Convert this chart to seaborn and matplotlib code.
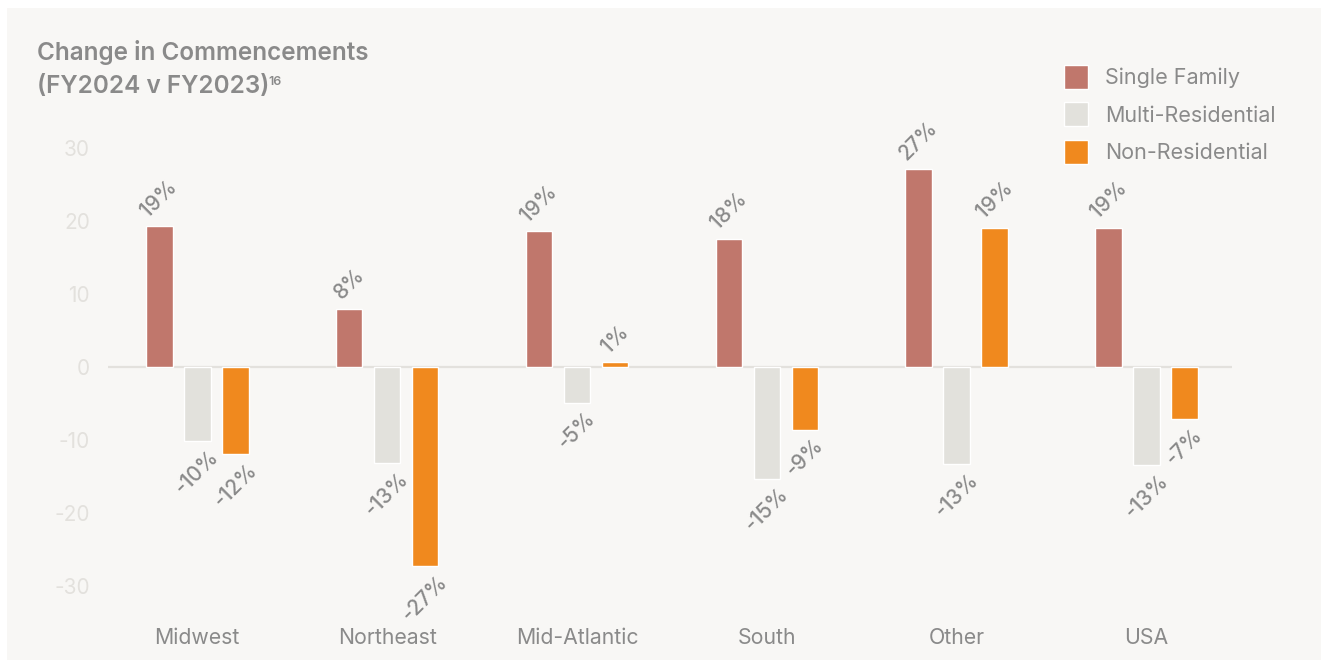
import seaborn as sns
import matplotlib.pyplot as plt
import matplotlib.patches as mpatches
import pandas as pd

# Data (% change FY2024 v FY2023)
regions = ["Midwest", "Northeast", "Mid-Atlantic", "South", "Other", "USA"]
single_family = [19.3, 8.0, 18.6, 17.6, 27.1, 19.1]
multi_residential = [-10.1, -13.2, -4.9, -15.3, -13.3, -13.4]
non_residential = [-11.9, -27.3, 0.7, -8.6, 19.1, -7.1]
series = ["Single Family", "Multi-Residential", "Non-Residential"]
yticks = [-30, -20, -10, 0, 10, 20, 30]

colors = ["#C0776C", "#E2E1DC", "#F0891E"]
grey = "#8A8A8A"
panel = "#F8F7F5"

rows = []
for name, vals in zip(series, [single_family, multi_residential, non_residential]):
    for reg, v in zip(regions, vals):
        rows.append({"Region": reg, "Change": v, "Type": name})
df = pd.DataFrame(rows)

sns.set_style("white")
plt.rcParams["font.family"] = ["Inter", "DejaVu Sans"]
plt.rcParams["axes.unicode_minus"] = False

W, H = 1321, 663
fig = plt.figure(figsize=(W / 100, H / 100), dpi=100, facecolor="white")
# light panel behind everything, with a thin white margin
fig.patches.append(mpatches.Rectangle((7 / W, 3 / H), 1 - 7 / W, 1 - 11 / H,
                                      transform=fig.transFigure, facecolor=panel,
                                      edgecolor="none", zorder=-10))

ax = fig.add_axes([108 / W, 1 - 622.5 / H, (1232 - 108) / W, 511 / H])
ax.set_facecolor("none")

sns.barplot(data=df, x="Region", y="Change", hue="Type", hue_order=series,
            order=regions, palette=colors, width=0.6, gap=0.3,
            saturation=1, ax=ax, zorder=3)

ax.axhline(0, color="#E3E1DD", lw=1.6, zorder=2)

for cont in ax.containers:
    ax.bar_label(cont, fmt=lambda v: f"{v:.0f}%", rotation=45, padding=4,
                 color=grey, fontsize=15, fontweight="medium")

ax.set_ylim(-35, 35)
ax.set_xlim(-0.47, 5.45)
ax.set_yticks(yticks)
ax.set_xlabel("")
ax.set_ylabel("")
ax.tick_params(axis="y", length=0, pad=13, labelsize=15, labelcolor="#E3E1DD")
ax.tick_params(axis="x", length=0, pad=4, labelsize=15.3, labelcolor=grey)
sns.despine(ax=ax, left=True, bottom=True)

# legend with square swatches, top right
handles, labels = ax.get_legend_handles_labels()
ax.legend(handles, labels, loc="upper left",
          bbox_to_anchor=(1064 / W, 1 - 65 / H), bbox_transform=fig.transFigure,
          frameon=False, borderpad=0, borderaxespad=0, fontsize=15.5,
          labelcolor=grey, handlelength=1.12, handleheight=1.34,
          handletextpad=0.8, labelspacing=0.62)

# two-line title with superscript footnote
fig.text(37 / W, 1 - 60 / H, "Change in Commencements", fontsize=17.5,
         fontweight="semibold", color=grey, va="baseline", ha="left")
t2 = fig.text(37 / W, 1 - 93 / H, "(FY2024 v FY2023)", fontsize=17.5,
              fontweight="semibold", color=grey, va="baseline", ha="left")
fig.add_artist(plt.Annotation("16", xy=(1, 1), xycoords=t2, xytext=(-0.5, -1),
                              textcoords="offset points", fontsize=9,
                              fontweight="semibold", color=grey,
                              va="top", ha="left"))

plt.savefig("out.png", dpi=100, facecolor="white")
plt.close()
